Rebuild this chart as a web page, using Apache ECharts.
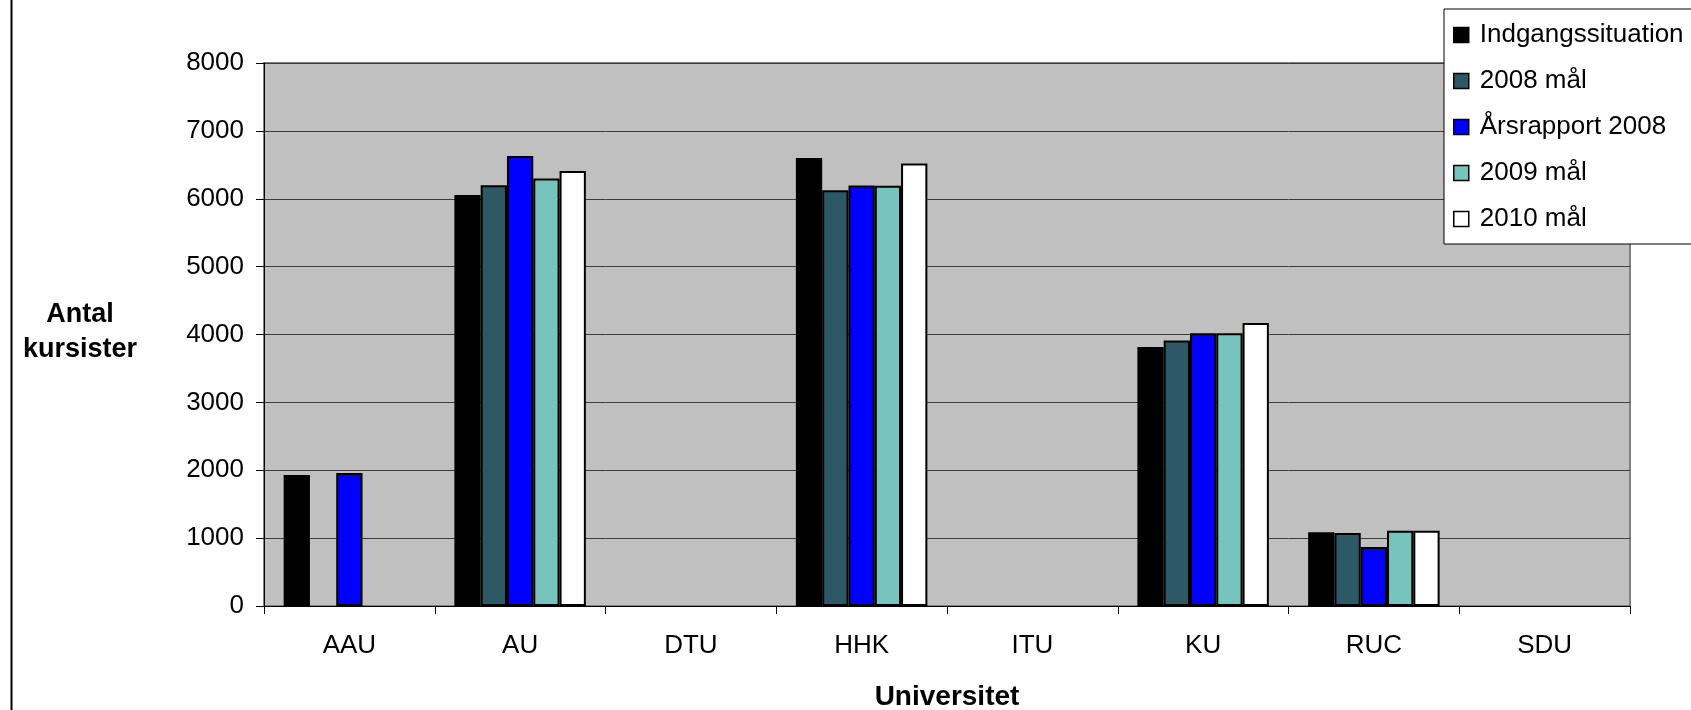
<!DOCTYPE html>
<html>
<head>
<meta charset="utf-8">
<script src="https://cdn.jsdelivr.net/npm/echarts@6/dist/echarts.min.js"></script>
<style>
html,body{margin:0;padding:0;background:#fff;}
#chart{width:1691px;height:710px;}
</style>
</head>
<body>
<div id="chart"></div>
<script>
const categories = ['AAU', 'AU', 'DTU', 'HHK', 'ITU', 'KU', 'RUC', 'SDU'];
const seriesNames = ['Indgangssituation', '2008 mål', 'Årsrapport 2008', '2009 mål', '2010 mål'];
const indgangssituation = [1930, 6055, null, 6600, null, 3815, 1085, null];
const maal2008 = [null, 6200, null, 6125, null, 3910, 1075, null];
const aarsrapport2008 = [1960, 6630, null, 6195, null, 4020, 870, null];
const maal2009 = [null, 6300, null, 6190, null, 4020, 1110, null];
const maal2010 = [null, 6410, null, 6520, null, 4170, 1110, null];
const yTicks = [0, 1000, 2000, 3000, 4000, 5000, 6000, 7000, 8000];
const colors = ['#000000', '#2d5866', '#0000ff', '#77c4bd', '#ffffff'];

const values = [indgangssituation, maal2008, aarsrapport2008, maal2009, maal2010];
const FONT = '"Liberation Sans", Arial, sans-serif';

const chart = echarts.init(document.getElementById('chart'), null, {renderer: 'canvas'});
chart.setOption({
  animation: false,
  backgroundColor: '#ffffff',
  color: colors,
  textStyle: {fontFamily: FONT},
  grid: {left: 264, right: 61, top: 63, bottom: 104, containLabel: false, outerBoundsMode: 'none',
    show: true, backgroundColor: '#c0c0c0', borderColor: '#808080', borderWidth: 2},
  legend: {
    orient: 'vertical',
    left: 1444, top: 9,
    padding: [13, 30, 12, 9],
    backgroundColor: '#ffffff',
    borderColor: '#000000', borderWidth: 1,
    itemWidth: 15, itemHeight: 15, itemGap: 20,
    icon: 'rect',
    itemStyle: {borderColor: '#000000', borderWidth: 1.5},
    textStyle: {fontSize: 26, color: '#000', fontFamily: FONT, padding: [0, 0, 0, 6]},
    data: seriesNames
  },
  xAxis: {
    type: 'category',
    data: categories,
    boundaryGap: true,
    axisLine: {lineStyle: {color: '#000', width: 1}},
    axisTick: {show: true, length: 8, lineStyle: {color: '#000'}},
    axisLabel: {fontSize: 26, color: '#000', margin: 27, fontFamily: FONT},
    name: 'Universitet',
    nameLocation: 'middle',
    nameGap: 77,
    nameTextStyle: {fontSize: 28, fontWeight: 'bold', color: '#000', fontFamily: FONT}
  },
  yAxis: {
    type: 'value',
    min: 0, max: 8000, interval: 1000,
    axisLine: {show: true, lineStyle: {color: '#000', width: 1}},
    axisTick: {show: true, length: 8, lineStyle: {color: '#000'}},
    axisLabel: {fontSize: 26, color: '#000', margin: 20, fontFamily: FONT,
      formatter: v => yTicks.includes(v) ? String(v) : ''},
    splitLine: {show: true, lineStyle: {color: '#3c3c3c', width: 1}}
  },
  graphic: [
    {type: 'line', shape: {x1: 11.5, y1: 0, x2: 11.5, y2: 710}, style: {stroke: '#000', lineWidth: 2}},
    {type: 'text', style: {text: 'Antal', x: 80, y: 315, textAlign: 'center', textVerticalAlign: 'middle', fontSize: 27, fontWeight: 'bold', fill: '#000', fontFamily: FONT}},
    {type: 'text', style: {text: 'kursister', x: 80, y: 350, textAlign: 'center', textVerticalAlign: 'middle', fontSize: 27, fontWeight: 'bold', fill: '#000', fontFamily: FONT}}
  ],
  series: seriesNames.map((name, i) => ({
    name: name,
    type: 'bar',
    data: values[i],
    barGap: '0%',
    barCategoryGap: '23%',
    itemStyle: {color: colors[i], borderColor: '#000', borderWidth: 2}
  }))
});
</script>
</body>
</html>
